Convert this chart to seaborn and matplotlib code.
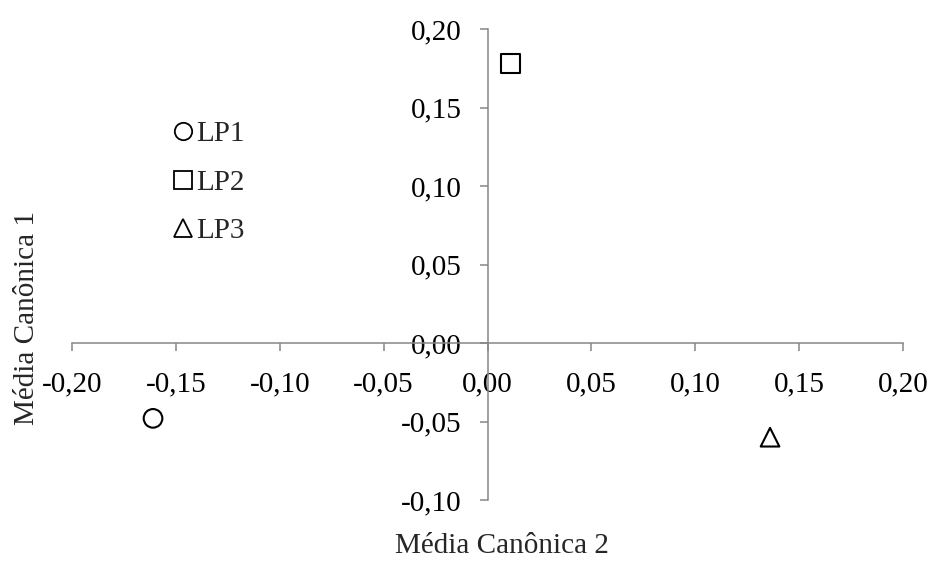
import numpy as np
import matplotlib
matplotlib.use('Agg')
import matplotlib.pyplot as plt
import seaborn as sns
import pandas as pd
from matplotlib.lines import Line2D

# Data
labels = ['LP1', 'LP2', 'LP3']
canonica2 = [-0.161, 0.011, 0.136]
canonica1 = [-0.048, 0.178, -0.060]
marker_map = {'LP1': 'o', 'LP2': 's', 'LP3': '^'}

x_ticks = [-0.20, -0.15, -0.10, -0.05, 0.00, 0.05, 0.10, 0.15, 0.20]
y_ticks = [-0.10, -0.05, 0.00, 0.05, 0.10, 0.15, 0.20]

df = pd.DataFrame({'linha': labels, 'mc2': canonica2, 'mc1': canonica1})

sns.set_style('white')
plt.rcParams['font.family'] = ['Liberation Serif', 'DejaVu Serif']
FS = 21

fig = plt.figure(figsize=(9.33, 5.65), dpi=100)
ax = fig.add_axes([72/933, 1 - 500/565, (903-72)/933, (500-29)/565])

sns.scatterplot(data=df, x='mc2', y='mc1', style='linha', markers=marker_map,
                s=180, facecolor='white', edgecolor='black', linewidth=1.5,
                ax=ax, legend=False)

ax.set_xlim(-0.20, 0.20)
ax.set_ylim(-0.10, 0.20)
ax.set_xticks(x_ticks)
ax.set_yticks(y_ticks)
fmt = lambda v: f"{v:.2f}".replace('.', ',').replace('-0,00', '0,00')
ax.set_xticklabels([fmt(v) for v in x_ticks])
ax.set_yticklabels([fmt(v) for v in y_ticks])

# Axes crossing at origin
for side in ['top', 'right']:
    ax.spines[side].set_visible(False)
ax.spines['left'].set_position(('data', 0))
ax.spines['bottom'].set_position(('data', 0))
for side in ['left', 'bottom']:
    ax.spines[side].set_color('#868686')
    ax.spines[side].set_linewidth(1.1)
ax.tick_params(axis='both', direction='out', length=5.5, width=1.1, color='#868686',
               labelsize=FS, labelcolor='black')
ax.tick_params(axis='x', pad=15, bottom=True)
ax.tick_params(axis='y', pad=13, left=True)
ax.set_xlabel('')
ax.set_ylabel('')
ax.patch.set_alpha(0)

# Axis titles
fig.text(502/933, 1 - 553/565, 'Média Canônica 2', ha='center', va='baseline', fontsize=FS)
fig.text(27/933, 1 - 318/565, 'Média Canônica 1', ha='center', va='center',
         rotation=90, fontsize=FS)

# Legend
handles = [Line2D([], [], linestyle='none', marker=marker_map[l], markersize=12.5,
                  markerfacecolor='white', markeredgecolor='black', markeredgewidth=1.3)
           for l in labels]
ax.legend(handles, labels, loc='upper left', bbox_to_anchor=(0.121, 0.805),
          frameon=False, fontsize=FS, handlelength=0.75, handletextpad=0.05,
          labelspacing=0.76, borderaxespad=0, borderpad=0)

fig.savefig('out.png', dpi=100)
